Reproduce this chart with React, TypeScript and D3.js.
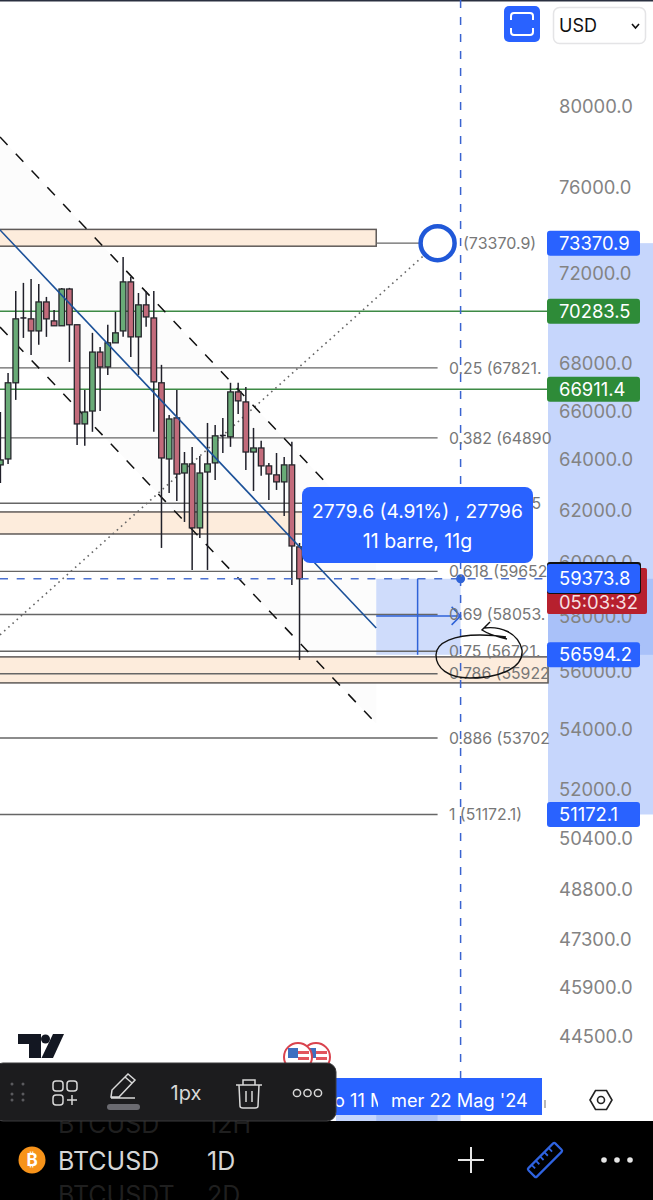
import React from "react";
import * as d3 from "d3";

// [open, high, low, close]
const candles: number[][] = [
  [63795, 65960, 63075, 63995], [64035, 67605, 63835, 67185], [67185, 71190, 66465, 69950], [69950, 71555, 69115, 69990],
  [69950, 71735, 68375, 69420], [69420, 71510, 68815, 70700], [70700, 70925, 69160, 69950], [69860, 70345, 69645, 69645],
  [69645, 71330, 69645, 71280], [71280, 71330, 68075, 69690], [69690, 69690, 64605, 65465], [65465, 66885, 64565, 65960],
  [66000, 69335, 65140, 68500], [68500, 68720, 66000, 67860], [67860, 69690, 67520, 68900], [68900, 70260, 68900, 69335],
  [69420, 72730, 69160, 71600], [71600, 71825, 68290, 69160], [69160, 71100, 67520, 70570], [70570, 71190, 69600, 70035],
  [69990, 71190, 65140, 67225], [67185, 67950, 60540, 64075], [64035, 65835, 62675, 65670], [65715, 66885, 62360, 63430],
  [63470, 64315, 61540, 63835], [63835, 64520, 59705, 61310], [61310, 64155, 60920, 63470], [63510, 65505, 59705, 63835],
  [63875, 65425, 63195, 64975], [64950, 65715, 64275, 64990], [64935, 67185, 64525, 66800], [66800, 67185, 65880, 66425],
  [66380, 67010, 63595, 64315], [64315, 65300, 62755, 64480], [64480, 64770, 63355, 63755], [63755, 63875, 62400, 63430],
  [63395, 64275, 62795, 63115], [63115, 64115, 61775, 63795], [63795, 64730, 59145, 60615], [60580, 60730, 56410, 59373.8],
];
const axisTicks = [80000, 76000, 72000, 68000, 66000, 64000, 62000, 60000, 58000, 56000, 54000, 52000, 50400, 48800, 47300, 45900, 44500];
const fibLevels = [67821, 64890, 62271.5, 59652, 58053, 56721, 55922, 53702, 51172.1];
const fibLabels = ["0.25 (67821.", "0.382 (64890", "0.5 (62271.5", "0.618 (59652", "0.69 (58053.", "0.75 (56721.", "0.786 (55922", "0.886 (53702", "1 (51172.1)"];
const greenLevels = [70283.5, 66911.4];
const zones: number[][] = [[74010, 73230, 49], [61930, 61075, 39.5], [56520, 55600, 71.4]];
const trendBlue = [73985, 57560];
const channelUpper = [78450, 61000];
const channelLower = [69590, 54190];
const dottedStart = 57310;
const fibTop = 73370.9;
const lastPrice = 59373.8;
const measureLow = 56594.2;
const fibBottom = 51172.1;
const priceTags: [number, string][] = [[73370.9, "#2962ff"], [70283.5, "#2e8b38"], [66911.4, "#2e8b38"], [56594.2, "#2962ff"], [51172.1, "#2962ff"]];

const W = 653, H = 1200;
const y = d3.scaleLog().domain([80000, 44500]).range([106, 1036]);
const x = d3.scaleLinear().domain([0, 40]).range([0.4, 307.2]);
const FONT = "Inter, 'Noto Sans', sans-serif";
const GREEN = "#69ab77", RED = "#c26b7b", INK = "#20202a", BLUE = "#2962ff";
const PANE = 548;

export default function App() {
  const x0 = x(49), xEnd = x(60), xFib = x(57);
  const chanPoly = `0,${y(channelUpper[0])} ${x0},${y(channelUpper[1])} ${x0},${y(channelLower[1])} 0,${y(channelLower[0])}`;
  return (
    <svg width={W} height={H} viewBox={`0 0 ${W} ${H}`} style={{ position: "absolute", left: 0, top: 0, background: "#fff", fontFamily: FONT }}>
      <defs>
        <clipPath id="dateClip"><rect x={336} y={1078} width={42} height={38} /></clipPath>
        <clipPath id="barClip"><rect x={0} y={1121} width={W} height={79} /></clipPath>
      </defs>
      <rect x={0} y={0} width={W} height={1.5} fill="#2a3040" />

      {/* axis pane highlight */}
      <rect x={PANE} y={y(fibTop)} width={W - PANE} height={y(fibBottom) - y(fibTop)} fill="#c6d6fc" />
      <rect x={PANE} y={y(lastPrice)} width={W - PANE} height={y(measureLow) - y(lastPrice)} fill="#a9c1f9" />

      {/* pale channel and measure */}
      <polygon points={chanPoly} fill="#fcfcfc" />
      <rect x={x0} y={y(lastPrice)} width={xEnd - x0} height={y(measureLow) - y(lastPrice)} fill="#cfdcfb" />

      {/* zones */}
      {zones.map((z, i) => (
        <rect key={i} x={-2} y={y(z[0])} width={x(z[2]) + 2} height={y(z[1]) - y(z[0])} fill="#fdecdc" stroke="#5f5a58" strokeWidth={1.5} />
      ))}

      {/* fib levels */}
      {fibLevels.map((v, i) => (
        <line key={i} x1={0} x2={xFib} y1={y(v)} y2={y(v)} stroke="#666" strokeWidth={1.4} />
      ))}
      {greenLevels.map((v, i) => (
        <line key={i} x1={0} x2={PANE} y1={y(v)} y2={y(v)} stroke="#3d8a45" strokeWidth={1.5} />
      ))}
      <line x1={x0} x2={xFib} y1={y(fibTop)} y2={y(fibTop)} stroke="#666" strokeWidth={1.4} />

      {/* dotted diagonal */}
      <line x1={0} y1={y(dottedStart)} x2={xFib} y2={y(fibTop)} stroke="#666" strokeWidth={1.6} strokeDasharray="1.6 4" />

      {/* channel */}
      <line x1={0} y1={y(channelUpper[0])} x2={x0} y2={y(channelUpper[1])} stroke="#111" strokeWidth={1.5} strokeDasharray="11 12" />
      <line x1={0} y1={y(channelLower[0])} x2={x0} y2={y(channelLower[1])} stroke="#111" strokeWidth={1.5} strokeDasharray="11 12" />

      {/* candles */}
      {candles.map((c, i) => {
        const [o, h, l, cl] = c;
        const up = cl >= o;
        const top = y(Math.max(o, cl)), bot = y(Math.min(o, cl));
        const doji = Math.abs(o - cl) < 50;
        return (
          <g key={i}>
            <line x1={x(i)} x2={x(i)} y1={y(h)} y2={y(l)} stroke={INK} strokeWidth={1.5} />
            {doji
              ? <line x1={x(i) - 3} x2={x(i) + 3} y1={top} y2={top} stroke={INK} strokeWidth={1.5} />
              : <rect x={x(i) - 2.8} y={top} width={5.6} height={bot - top} fill={up ? GREEN : RED} stroke="#26262c" strokeWidth={1.3} />}
          </g>
        );
      })}

      {/* blue trend */}
      <line x1={0} y1={y(trendBlue[0])} x2={x0} y2={y(trendBlue[1])} stroke="#1c5199" strokeWidth={1.6} />

      {/* last price dashes */}
      <line x1={0} x2={PANE} y1={y(lastPrice)} y2={y(lastPrice)} stroke="#4a70d0" strokeWidth={1.5} strokeDasharray="8 8.7" />

      {/* vertical dashed */}
      <line x1={xEnd} x2={xEnd} y1={0} y2={1080} stroke="#3a64d0" strokeWidth={1.5} strokeDasharray="8 9" />

      {/* measure lines */}
      <line x1={(x0 + xEnd) / 2 - 0.8} x2={(x0 + xEnd) / 2 - 0.8} y1={y(lastPrice)} y2={y(measureLow)} stroke="#2f63d8" strokeWidth={1.5} />
      <line x1={x0} x2={xEnd} y1={y(58000)} y2={y(58000)} stroke="#2f63d8" strokeWidth={1.5} />
      <polyline points={`${xEnd - 9},${y(58000) - 9} ${xEnd},${y(58000)} ${xEnd - 9},${y(58000) + 9}`} fill="none" stroke="#2f63d8" strokeWidth={1.5} />
      <circle cx={xEnd} cy={y(lastPrice)} r={4.5} fill="#2f63d8" />

      {/* fib labels */}
      {fibLabels.map((t, i) => (
        <text key={i} x={449} y={y(fibLevels[i])} dy="0.36em" fontSize={15.8} fill="#777">{t}</text>
      ))}
      <text x={463} y={y(fibTop)} dy="0.36em" fontSize={16} fill="#777">(73370.9)</text>

      {/* circle handle */}
      <circle cx={xFib} cy={y(fibTop)} r={17} fill="#fff" stroke="#2058d8" strokeWidth={4.5} />

      {/* axis ticks */}
      {axisTicks.map((v) => (
        <text key={v} x={559} y={y(v)} dy="0.36em" fontSize={18.4} fill="#838383">{v.toFixed(1)}</text>
      ))}

      {/* tooltip */}
      <rect x={302} y={487} width={231} height={76} rx={8} fill={BLUE} />
      <text x={417.5} y={518} textAnchor="middle" fontSize={19.2} fill="#fff">2779.6 (4.91%) , 27796</text>
      <text x={417.5} y={548} textAnchor="middle" fontSize={19.5} fill="#fff">11 barre, 11g</text>

      {/* price tags */}
      <rect x={547} y={568} width={100} height={46} rx={2} fill="#b7202e" />
      <text x={559} y={602} dy="0.36em" fontSize={18.4} fill="#f6dfe0">05:03:32</text>
      <rect x={547} y={562} width={94} height={32} rx={3} fill="#111" />
      <rect x={547} y={564} width={93} height={29} rx={3} fill={BLUE} />
      <text x={559} y={y(lastPrice)} dy="0.36em" fontSize={18.4} fill="#fff">59373.8</text>
      {priceTags.map(([v, col]) => (
        <g key={v}>
          <rect x={547} y={y(v) - 12.5} width={93} height={25} rx={3} fill={col} />
          <text x={559} y={y(v)} dy="0.36em" fontSize={18.4} fill="#fff">{v.toFixed(1)}</text>
        </g>
      ))}

      {/* hand-drawn annotation */}
      <path d="M490,622 L482,630 C488,634 498,637 507,639 M484,628 C500,626 518,632 522,650 C524,670 495,678 470,678 C448,678 436,668 436,655 C436,642 455,635 480,635 C490,635 500,636 506,637"
        fill="none" stroke="#111" strokeWidth={1.4} />

      {/* top right controls */}
      <rect x={504} y={6} width={36} height={36} rx={5} fill={BLUE} />
      <path d="M511,20 V16 Q511,13 514,13 H530 Q533,13 533,16 V20 M511,28 V32 Q511,35 514,35 H530 Q533,35 533,32 V28" fill="none" stroke="#fff" strokeWidth={2} />
      <rect x={553.5} y={7.5} width={92} height={36} rx={6} fill="#fff" stroke="#e4e4e6" strokeWidth={1.5} />
      <text x={559} y={26} dy="0.36em" fontSize={18} fill="#111">USD</text>
      <path d="M632,24 L635.5,28 L639,24" fill="none" stroke="#111" strokeWidth={1.6} />

      {/* TV logo */}
      <path d="M18,1034 H41 V1058 H29 V1044 H18 Z" fill="#131722" />
      <circle cx={45.5} cy={1039} r={4.5} fill="#131722" />
      <path d="M53,1034 H64 L53,1058 H41.5 Z" fill="#131722" />

      {/* flags */}
      {[316, 298].map((cx) => (
        <g key={cx}>
          <circle cx={cx} cy={1057} r={14} fill="#fff" stroke="#d9434e" strokeWidth={2} />
          <rect x={cx - 10} y={1048} width={10} height={10} fill="#3f6fc0" />
          <rect x={cx} y={1051} width={11} height={3} fill="#e2555d" />
          <rect x={cx} y={1057} width={11} height={3} fill="#e2555d" />
          <rect x={cx - 11} y={1063} width={22} height={3} fill="#e2555d" />
        </g>
      ))}

      {/* time axis */}
      <rect x={336} y={1115} width={xEnd - 336} height={6} fill="#c6d6fc" />
      <rect x={x0} y={1115} width={xFib - x0} height={6} fill="#a9c1f9" />
      <rect x={336} y={1078} width={206} height={37} fill={BLUE} />
      <text x={391} y={1100} dy="0.36em" fontSize={18.2} fill="#fff">mer 22 Mag '24</text>
      <text x={334} y={1100} dy="0.36em" fontSize={18.2} fill="#fff" clipPath="url(#dateClip)">o 11 Mag</text>
      <line x1={545} x2={545} y1={1100} y2={1108} stroke="#888" strokeWidth={1.2} />
      <polygon points="590,1100 595.5,1090.5 606.5,1090.5 612,1100 606.5,1109.5 595.5,1109.5" fill="#fff" stroke="#222" strokeWidth={1.6} />
      <circle cx={601} cy={1100} r={3.5} fill="none" stroke="#222" strokeWidth={1.6} />

      {/* bottom bar */}
      <rect x={0} y={1121} width={W} height={79} fill="#000" />
      <g clipPath="url(#barClip)" fill="#1f1f1f" fontSize={25}>
        <text x={58} y={1133}>BTCUSD</text>
        <text x={207} y={1133}>12H</text>
        <text x={58} y={1204}>BTCUSDT</text>
        <text x={207} y={1204}>2D</text>
      </g>
      <circle cx={32} cy={1160} r={13.5} fill="#f7931a" />
      <text x={32} y={1160} dy="0.36em" textAnchor="middle" fontSize={17} fontWeight={700} fill="#fff">₿</text>
      <text x={58} y={1161} dy="0.36em" fontSize={25} fill="#d6d6d6">BTCUSD</text>
      <text x={207} y={1161} dy="0.36em" fontSize={25} fill="#d6d6d6">1D</text>
      <path d="M471,1147 V1173 M458,1160 H484" stroke="#e6e6e6" strokeWidth={2} />
      <g transform="rotate(-45 545 1160)">
        <rect x={526} y={1154} width={38} height={12} rx={1.5} fill="none" stroke="#2f63e0" strokeWidth={2.2} />
        <path d="M532,1154 v5 M538,1154 v5 M544,1154 v5 M550,1154 v5 M556,1154 v5" stroke="#2f63e0" strokeWidth={1.8} />
      </g>
      {[604, 617, 630].map((cx) => <circle key={cx} cx={cx} cy={1160} r={2.8} fill="#e6e6e6" />)}

      {/* drawing toolbar */}
      <rect x={-6} y={1063} width={342} height={58} rx={9} fill="#1c1c1e" stroke="#3a3a3c" strokeWidth={1} />
      {[12, 23].map((cx) => [1084, 1094, 1100].map((cy) => <circle key={`${cx}-${cy}`} cx={cx} cy={cy} r={1.5} fill="#5a5a5e" />))}
      <g fill="none" stroke="#d8d8d8" strokeWidth={1.5}>
        <rect x={53} y={1081} width={10} height={10} rx={3} />
        <rect x={67} y={1081} width={10} height={10} rx={3} />
        <rect x={53} y={1095} width={10} height={10} rx={3} />
        <path d="M67,1100 H77 M72,1095 V1105" />
        <path d="M111,1097 L112,1090 L128,1074 L135,1080 L119,1097 Z M125,1077 L132,1083 M111,1098 H135" />
        <path d="M236,1085 H262 M243,1085 V1080 H255 V1085 M239,1085 L240,1106 Q240,1108 243,1108 H255 Q258,1108 258,1106 L259,1085 M246,1091 V1102 M252,1091 V1102" />
        <circle cx={297} cy={1093} r={3.6} />
        <circle cx={307.5} cy={1093} r={3.6} />
        <circle cx={318} cy={1093} r={3.6} />
      </g>
      <rect x={107} y={1104} width={33} height={6} rx={3} fill="#6a6a70" />
      <text x={186} y={1093} dy="0.36em" textAnchor="middle" fontSize={20} fill="#d8d8d8">1px</text>
    </svg>
  );
}
